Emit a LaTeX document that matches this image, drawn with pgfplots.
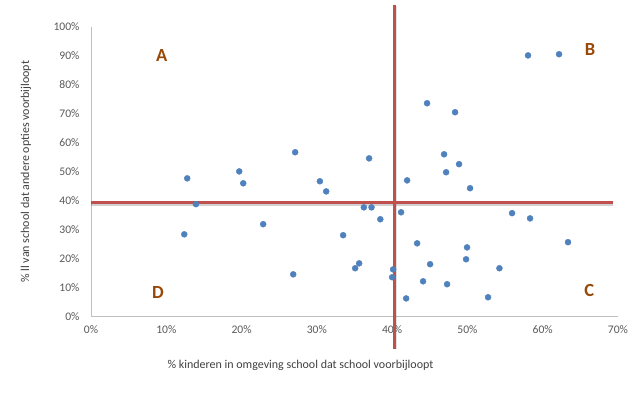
\documentclass[border=0pt]{standalone}
\usepackage{pgfplots}
\pgfplotsset{compat=1.18}
\usepackage{fontspec}
\setmainfont{Carlito}
\definecolor{ptblue}{HTML}{4F81BD}
\definecolor{qred}{HTML}{C0504D}
\definecolor{tickgray}{HTML}{595959}
\definecolor{labgray}{HTML}{404040}
\definecolor{axgray}{HTML}{BFBFBF}
\definecolor{lettercol}{HTML}{984807}
\begin{document}
\begin{tikzpicture}
\begin{axis}[
  scale only axis, width=527pt, height=290pt,
  xmin=0, xmax=70, ymin=0, ymax=100,
  clip=false,
  axis x line*=bottom, axis y line*=left,
  axis line style={axgray, line width=0.8pt, -},
  xtick={0,10,...,70}, ytick={0,10,...,100},
  xticklabels={0\%,10\%,20\%,30\%,40\%,50\%,60\%,70\%},
  yticklabels={0\%,10\%,20\%,30\%,40\%,50\%,60\%,70\%,80\%,90\%,100\%},
  major tick length=0pt,
  tick label style={font=\fontsize{11.6}{13}\selectfont, text=tickgray},
  xticklabel style={yshift=-5pt},
  yticklabel style={xshift=-8pt},
  xlabel={\% kinderen in omgeving school dat school voorbijloopt},
  ylabel={\% ll van school dat andere opties voorbijloopt},
  xlabel style={at={(axis description cs:0.3975,-0.1666)}, anchor=center, font=\fontsize{12}{14}\selectfont, text=labgray},
  ylabel style={at={(axis description cs:-0.1233,0.5)}, anchor=center, font=\fontsize{12}{14}\selectfont, text=labgray},
]
\addplot[only marks, mark=*, mark size=3pt, draw=ptblue, fill=ptblue] coordinates {
(58.05,90.1) (62.17,90.5) (44.64,73.6) (48.36,70.5) (36.94,54.6)
(46.9,56.0) (48.89,52.6) (47.17,49.8) (41.99,47.0) (50.35,44.3)
(12.78,47.7) (19.69,50.1) (20.22,46.0) (27.12,56.7) (30.4,46.7)
(31.24,43.2) (13.94,38.8) (12.39,28.4) (22.87,31.9) (26.86,14.6)
(33.49,28.1) (35.09,16.7) (35.62,18.4) (36.24,37.7) (37.26,37.7)
(38.43,33.6) (41.19,36.0) (55.93,35.7) (58.32,33.9) (63.36,25.7)
(43.32,25.3) (49.95,23.9) (49.82,19.8) (45.04,18.1) (54.25,16.7)
(40.13,16.3) (40.0,13.6) (44.11,12.2) (47.3,11.2) (41.86,6.3)
(52.74,6.7)
};
% shadows
\addplot[black, opacity=0.18, line width=2.5pt, forget plot] coordinates {(0,38.75) (69.4,38.75)};
\addplot[black, opacity=0.12, line width=2.5pt, forget plot] coordinates {(40.5,107.3) (40.5,-11.2)};
% quadrant lines
\addplot[qred, line width=3pt] coordinates {(0,39.4) (69.4,39.4)};
\addplot[qred, line width=3pt] coordinates {(40.26,107.5) (40.26,-11.1)};
\node[font=\bfseries\fontsize{18.5}{20}\selectfont, text=lettercol] at (axis cs:9.39,90.0) {A};
\node[font=\bfseries\fontsize{18.5}{20}\selectfont, text=lettercol] at (axis cs:66.3,92.2) {B};
\node[font=\bfseries\fontsize{18.5}{20}\selectfont, text=lettercol] at (axis cs:66.2,9.2) {C};
\node[font=\bfseries\fontsize{18.5}{20}\selectfont, text=lettercol] at (axis cs:8.89,8.4) {D};
\end{axis}
\path (-91pt,-76.3pt) rectangle (552pt,316.7pt);
\end{tikzpicture}
\end{document}
